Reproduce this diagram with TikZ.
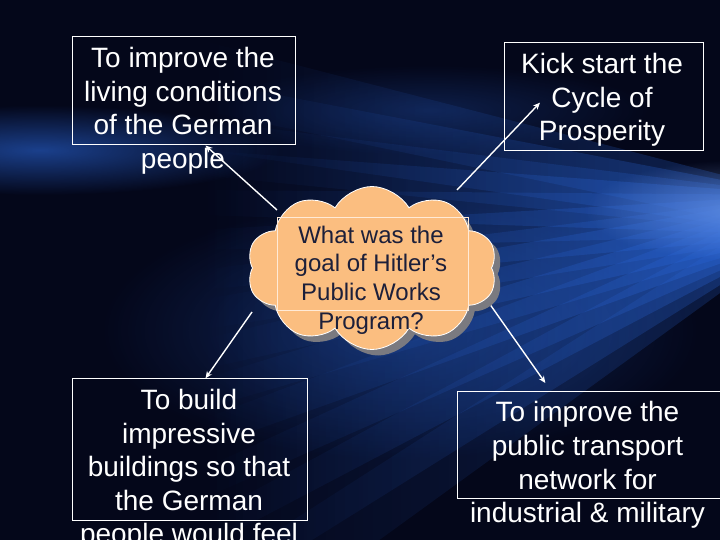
\documentclass[tikz,border=0pt]{standalone}
\usepackage{fontspec}
\setmainfont{Liberation Sans}
\usetikzlibrary{arrows.meta,shapes.symbols,fadings}
\definecolor{bgdark}{HTML}{04071A}
\definecolor{rayblue}{HTML}{2A66D8}
\definecolor{peach}{HTML}{FBBE80}
\definecolor{navytext}{HTML}{1C1F3A}
\definecolor{shadowgray}{HTML}{7A7A80}
\definecolor{innerline}{HTML}{FFEAD6}
\tikzfading[name=rayfade, left color=transparent!100, right color=transparent!0]
\tikzfading[name=blobfade, inner color=transparent!0, outer color=transparent!100]
\begin{document}
\begin{tikzpicture}[x=1pt,y=-1pt,
  box/.style={draw=white, line width=1pt, inner sep=0pt, anchor=north west},
  boxtext/.style={text=white, align=center, inner sep=0pt, anchor=north, font=\fontsize{28}{33.6}\selectfont},
  cloudtext/.style={text=navytext, align=center, inner sep=0pt, anchor=north, font=\fontsize{24}{28.8}\selectfont},
  arr/.style={draw=white, line width=1.4pt, -{Stealth[length=7pt,width=6pt]}},
  cloudshape/.style={cloud, cloud puffs=10, cloud puff arc=120, aspect=1.5, minimum width=250pt, minimum height=163pt, inner sep=0pt}
  ]
\useasboundingbox (0,0) rectangle (720,540);
\clip (0,0) rectangle (720,540);
% background
\fill[bgdark] (0,0) rectangle (720,540);
\fill[rayblue, opacity=.6, path fading=blobfade] (40,150) ellipse [x radius=240, y radius=45];
\fill[rayblue, opacity=.35, path fading=blobfade] (400,330) ellipse [x radius=300, y radius=130];
\fill[rayblue, opacity=.25, path fading=blobfade] (430,110) ellipse [x radius=220, y radius=45];
\foreach \ya/\yb/\op in {40/110/.3, 80/150/.35, 120/175/.3, 150/215/.4, 190/250/.35, 230/290/.4, 270/330/.35, 300/370/.4, 340/410/.35, 380/450/.4, 420/500/.35, 470/550/.35, 520/610/.3, 580/670/.25}{
  \fill[rayblue, opacity=\op, path fading=rayfade] (800,195) -- (800,235) -- (200,\yb) -- (200,\ya) -- cycle;
}
\fill[rayblue!60!white, opacity=.55, path fading=blobfade] (735,210) ellipse [x radius=150, y radius=50];
% boxes
\node[box, minimum width=222.5pt, minimum height=108.5pt] (b1) at (72,36) {};
\node[box, minimum width=198.5pt, minimum height=107.7pt] (b2) at (504,42.3) {};
\node[box, minimum width=234.5pt, minimum height=141.7pt] (b4) at (72,378.3) {};
\node[box, minimum width=273pt, minimum height=107.2pt] (b5) at (456.7,390.5) {};
% arrows
\coordinate (s1) at (277,210);
\coordinate (s2) at (457,190);
\coordinate (s3) at (252,312);
\coordinate (s4) at (482,293);
\draw[arr] (s1) -- ([xshift=21.75pt]b1.south);
\draw[arr] (s2) -- ([xshift=36pt,yshift=-6pt]b2.west);
\draw[arr] (s3) -- ([xshift=15.75pt]b4.north);
\draw[arr] (s4) -- ([xshift=-48.35pt,yshift=7.5pt]b5.north);
% cloud
\node[cloudshape, fill=shadowgray] (cloudshadow) at (378,274) {};
\node[cloudshape, fill=peach, draw=white, line width=0.8pt] (cloud) at (372,268) {};
\node[box, draw=innerline, line width=0.8pt, minimum width=191.6pt, minimum height=93.3pt] (b3) at (276.7,216.7) {};
% texts
\node[boxtext] (t1) at (183,47) {To improve the\\living conditions\\of the German\\people};
\node[boxtext] (t2) at (602,53) {Kick start the\\Cycle of\\Prosperity};
\node[cloudtext] (t3) at (371,225.5) {What was the\\goal of Hitler’s\\Public Works\\Program?};
\node[boxtext] (t4) at (189,389) {To build\\impressive\\buildings so that\\the German\\people would feel};
\node[boxtext] (t5) at (587.5,401.5) {To improve the\\public transport\\network for\\industrial \& military};
\end{tikzpicture}
\end{document}
